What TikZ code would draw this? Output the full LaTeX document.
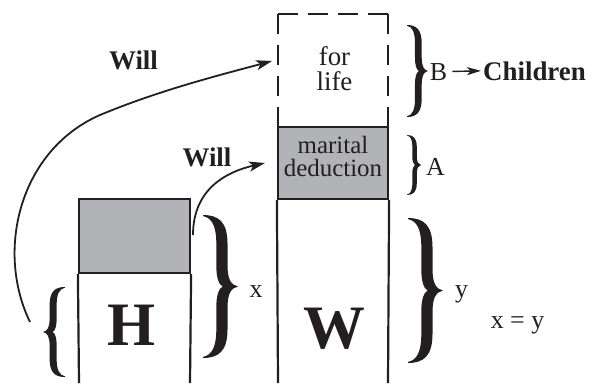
\documentclass[tikz,border=0pt]{standalone}
\usepackage{fontspec}
\setmainfont{Liberation Serif}
\usetikzlibrary{arrows.meta,calc}
\definecolor{ink}{HTML}{231F20}
\definecolor{boxgray}{HTML}{B1B3B6}
\begin{document}
\begin{tikzpicture}[x=1bp,y=-1bp,
  txt/.style={inner sep=0pt, text=ink, anchor=base},
  boxtxt/.style={txt, font=\fontsize{25}{25}\selectfont},
  fortxt/.style={txt, font=\fontsize{27}{27}\selectfont},
  willtxt/.style={txt, font=\fontsize{27}{27}\selectfont\bfseries},
  lbltxt/.style={txt, font=\fontsize{26}{26}\selectfont},
  bigtxt/.style={txt, font=\fontsize{62}{62}\selectfont\bfseries},
  graybox/.style={draw=ink, fill=boxgray, line width=2.2bp, inner sep=0pt},
  plainbox/.style={draw=none, inner sep=0pt},
  colline/.style={draw=ink, line width=2.2bp},
  dashline/.style={draw=ink, line width=2.2bp},
  curvearrow/.style={draw=ink, line width=1.8bp, -{Stealth[length=16bp,width=10bp,inset=4bp]}},
  smallarrow/.style={draw=ink, line width=1.4bp, -{Stealth[length=14bp,width=8bp,inset=3.5bp]}},
  bracepic/.pic={\fill[ink] (0,1) .. controls (0.45,1) and (0.7,0.9) .. (0.7,0.6)
      -- (0.7,0.3) .. controls (0.7,0.1) and (0.8,0.02) .. (1,0)
      .. controls (0.8,-0.02) and (0.7,-0.1) .. (0.7,-0.3)
      -- (0.7,-0.6) .. controls (0.7,-0.9) and (0.45,-1) .. (0,-1)
      -- (0,-0.985) .. controls (0.25,-0.96) and (0.38,-0.85) .. (0.38,-0.6)
      -- (0.38,-0.3) .. controls (0.38,-0.12) and (0.45,-0.03) .. (0.56,0)
      .. controls (0.45,0.03) and (0.38,0.12) .. (0.38,0.3)
      -- (0.38,0.6) .. controls (0.38,0.85) and (0.25,0.96) .. (0,0.985)
      -- cycle;}
]
\useasboundingbox (0,0) rectangle (597,383);

% H column
\node[graybox, minimum width=111bp, minimum height=74bp] (hgray) at (134.5,236) {};
\draw[colline] (hgray.south west) -- (79,383) (hgray.south east) -- (190,383);
\node[bigtxt] (H) at (132,345) {H};

% W column
\node[plainbox, minimum width=110bp, minimum height=113bp] (forlife) at (333,70.5) {};
\draw[dashline, dash pattern=on 20bp off 11bp] (forlife.south west) -- (forlife.north west);
\draw[dashline, dash pattern=on 20bp off 10bp] (forlife.north west) -- (forlife.north east);
\draw[dashline, dash pattern=on 20bp off 11bp] (forlife.north east) -- (forlife.south east);
\node[graybox, minimum width=110bp, minimum height=72bp] (md) at (333,163) {};
\draw[colline] (md.south west) -- (278,383) (md.south east) -- (388,383);
\node[bigtxt] (W) at (334,348) {W};

% box texts
\node[fortxt] (for) at (334.5,65) {for};
\node[fortxt] (life) at (334.5,90) {life};
\node[boxtxt] (marital) at (333,153) {marital};
\node[boxtxt] (deduction) at (333,176) {deduction};

% braces
\pic[xscale=35, yscale=71.5] at (203,286.5) {bracepic};
\pic[xscale=35, yscale=72.5] at (408,290.5) {bracepic};
\pic[xscale=21, yscale=46] at (407,71) {bracepic};
\pic[xscale=14, yscale=30] at (407,165) {bracepic};
\pic[xscale=-22, yscale=45] at (65,332) {bracepic};

% labels
\node[lbltxt] (xlbl) at (256,297) {x};
\node[lbltxt] (ylbl) at (461.5,297) {y};
\node[lbltxt] (xeqy) at (517.5,328) {x = y};
\node[lbltxt] (A) at (435.5,175) {A};
\node[lbltxt] (B) at (438.5,80) {B};
\node[willtxt, anchor=base west] (Children) at (483,80) {Children};
\node[willtxt] (will1) at (133.5,69) {Will};
\node[willtxt] (will2) at (207,166) {Will};

% connectors
\draw[smallarrow, shorten <=5bp, shorten >=2bp] (B.east) -- (Children.west);
\coordinate (c1s) at (30,322);
\coordinate (c1e) at (272,61);
\draw[curvearrow] (c1s) .. controls (-5,250) and (20,150) .. (100,115)
   .. controls (160,90) and (220,75) .. (c1e);
\coordinate (c2s) at (193,235);
\coordinate (c2e) at (265,163);
\draw[curvearrow] (c2s) .. controls (193,190) and (225,172) .. (c2e);
\end{tikzpicture}
\end{document}
